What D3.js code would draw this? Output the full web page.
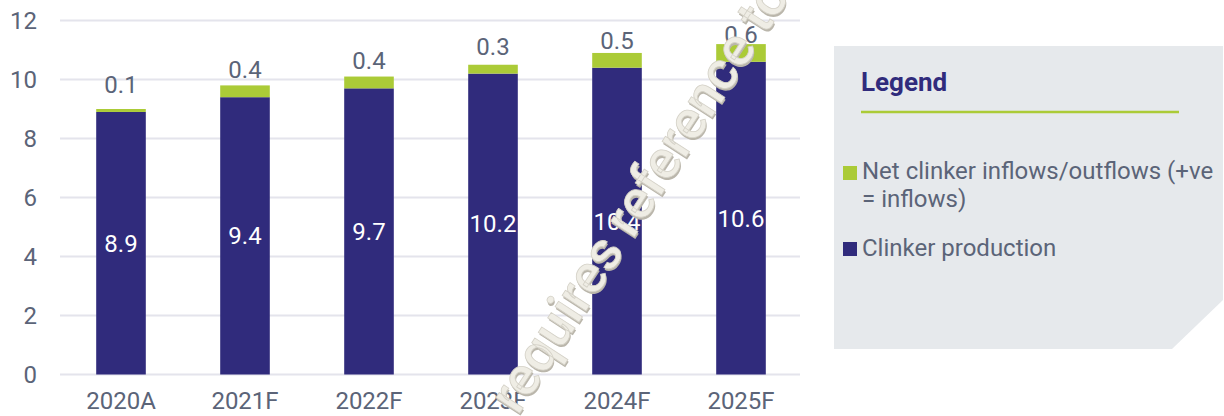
<!DOCTYPE html>
<html>
<head>
<meta charset="utf-8">
<script src="https://cdn.jsdelivr.net/npm/d3@7"></script>
<style>
  body { margin: 0; background: #fff; }
  svg { display: block; font-family: Roboto, "Noto Sans", sans-serif; }
</style>
</head>
<body>
<div id="chart"></div>
<script>
// data
var years = ["2020A", "2021F", "2022F", "2023F", "2024F", "2025F"];
var production = [8.9, 9.4, 9.7, 10.2, 10.4, 10.6];
var netFlows = [0.1, 0.4, 0.4, 0.3, 0.5, 0.6];
var yTicks = [0, 2, 4, 6, 8, 10, 12];
var legendLabels = ["Net clinker inflows/outflows (+ve", "= inflows)", "Clinker production"];

var navy = "#302b7c", green = "#abcb37", textGrey = "#5b6478";

var width = 1224, height = 416;

var svg = d3.select("#chart")
  .append("svg")
    .attr("width", width)
    .attr("height", height);

var x = d3.scaleBand()
  .domain(years)
  .range([59, 803])
  .paddingInner(0.6)
  .paddingOuter(0.3);

var y = d3.scaleLinear()
  .domain([0, 12])
  .range([374.5, 20.5]);

// gridlines
svg.append("g")
  .selectAll("line")
  .data(yTicks)
  .enter().append("line")
    .attr("x1", 60)
    .attr("x2", 800)
    .attr("y1", function(d) { return y(d); })
    .attr("y2", function(d) { return y(d); })
    .attr("stroke", "#e4e4ec")
    .attr("stroke-width", 2);

// y axis labels
var yAxis = svg.append("g")
  .attr("transform", "translate(37,0)")
  .call(d3.axisLeft(y).tickValues(yTicks).tickSize(0).tickPadding(0));
yAxis.select(".domain").remove();
yAxis.selectAll("text")
  .attr("fill", textGrey)
  .style("font-size", "24px")
  .style("font-family", "Roboto");

// x axis labels
var xAxis = svg.append("g")
  .attr("transform", "translate(0,392)")
  .call(d3.axisBottom(x).tickSize(0).tickPadding(0));
xAxis.select(".domain").remove();
xAxis.selectAll("text")
  .attr("fill", textGrey)
  .attr("dy", "0.71em")
  .style("font-size", "24px")
  .style("font-family", "Roboto");

// production bars
svg.append("g")
  .selectAll("rect")
  .data(years)
  .enter().append("rect")
    .attr("x", function(d) { return x(d); })
    .attr("width", x.bandwidth())
    .attr("y", function(d, i) { return y(production[i]); })
    .attr("height", function(d, i) { return y(0) - y(production[i]); })
    .attr("fill", navy);

// net flow bars stacked on top
svg.append("g")
  .selectAll("rect")
  .data(years)
  .enter().append("rect")
    .attr("x", function(d) { return x(d); })
    .attr("width", x.bandwidth())
    .attr("y", function(d, i) { return y(production[i] + netFlows[i]); })
    .attr("height", function(d, i) { return y(production[i]) - y(production[i] + netFlows[i]); })
    .attr("fill", green);

// labels inside the navy bars
svg.append("g")
  .selectAll("text")
  .data(years)
  .enter().append("text")
    .attr("x", function(d) { return x(d) + x.bandwidth() / 2; })
    .attr("y", function(d, i) { return (y(production[i]) + y(0)) / 2; })
    .attr("dy", "0.35em")
    .attr("text-anchor", "middle")
    .attr("fill", "#fff")
    .style("font-size", "24px")
    .text(function(d, i) { return production[i].toFixed(1); });

// labels above the bars
svg.append("g")
  .selectAll("text")
  .data(years)
  .enter().append("text")
    .attr("x", function(d) { return x(d) + x.bandwidth() / 2; })
    .attr("y", function(d, i) { return y(production[i]) - 19; })
    .attr("text-anchor", "middle")
    .attr("fill", textGrey)
    .style("font-size", "24px")
    .text(function(d, i) { return netFlows[i].toFixed(1); });

// legend panel
var legend = svg.append("g");
legend.append("path")
  .attr("d", "M834,46 L1223,46 L1223,300 L1172,349 L834,349 Z")
  .attr("fill", "#e6e9ec");

legend.append("text")
  .attr("x", 861)
  .attr("y", 91)
  .attr("fill", navy)
  .style("font-size", "26px")
  .style("font-weight", "700")
  .text("Legend");

legend.append("line")
  .attr("x1", 861)
  .attr("x2", 1179)
  .attr("y1", 112)
  .attr("y2", 112)
  .attr("stroke", green)
  .attr("stroke-width", 2.5);

legend.append("rect")
  .attr("x", 843).attr("y", 166)
  .attr("width", 14).attr("height", 14)
  .attr("fill", green);
legend.append("rect")
  .attr("x", 843).attr("y", 242)
  .attr("width", 14).attr("height", 14)
  .attr("fill", navy);

legend.selectAll("text.item")
  .data(legendLabels)
  .enter().append("text")
    .attr("class", "item")
    .attr("x", 862)
    .attr("y", function(d, i) { return [179, 207, 256][i]; })
    .attr("fill", textGrey)
    .style("font-size", "24px")
    .text(function(d) { return d; });

// watermark across the chart (shadow + cream face)
var mark = svg.append("g")
  .attr("transform", "translate(518,416) rotate(-57)")
  .style("font-size", "54px")
  .style("font-weight", "500");
mark.append("text")
  .attr("x", -1.5).attr("y", 2)
  .attr("fill", "#bab6ab")
  .text("requires reference to");
mark.append("text")
  .attr("fill", "#efede5")
  .attr("stroke", "#d4d1c7")
  .attr("stroke-width", 0.8)
  .text("requires reference to");
</script>
</body>
</html>
